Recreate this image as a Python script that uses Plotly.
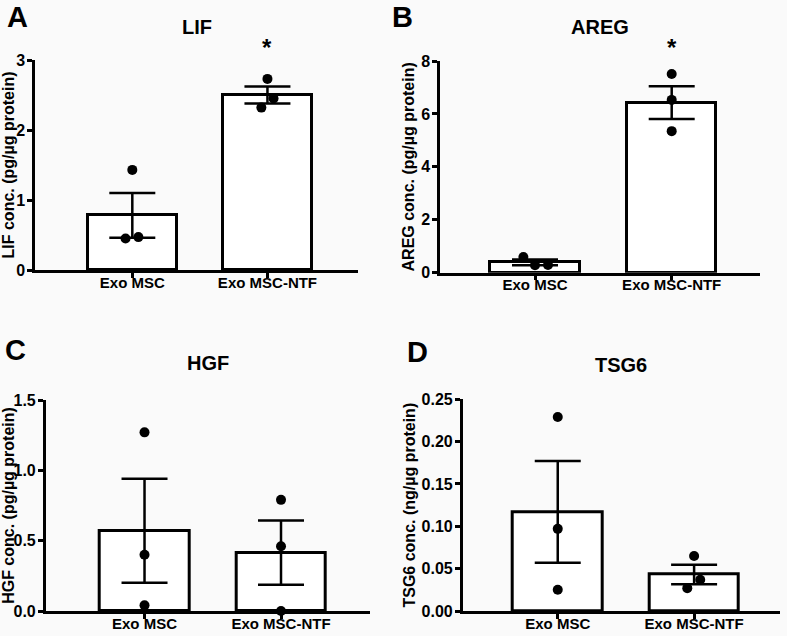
import plotly.graph_objects as go

# ---------------- data ----------------
categories = ["Exo MSC", "Exo MSC-NTF"]

lif_mean = [0.78, 2.50]
lif_sem = [0.32, 0.12]
lif_msc_points = [1.43, 0.45, 0.47]
lif_ntf_points = [2.73, 2.45, 2.32]

areg_mean = [0.39, 6.43]
areg_sem = [0.11, 0.62]
areg_msc_points = [0.59, 0.28, 0.29]
areg_ntf_points = [7.51, 6.53, 5.35]

hgf_mean = [0.57, 0.415]
hgf_sem = [0.37, 0.228]
hgf_msc_points = [1.27, 0.40, 0.04]
hgf_ntf_points = [0.79, 0.46, 0.0]

tsg6_mean = [0.117, 0.043]
tsg6_sem = [0.060, 0.0115]
tsg6_msc_points = [0.229, 0.097, 0.025]
tsg6_ntf_points = [0.065, 0.037, 0.027]

titles = ["LIF", "AREG", "HGF", "TSG6"]
letters = ["A", "B", "C", "D"]
ytitles = ["LIF conc. (pg/µg protein)", "AREG conc. (pg/µg protein)",
           "HGF conc. (pg/µg protein)", "TSG6 conc. (ng/µg protein)"]
yticks = [[0, 1, 2, 3], [0, 2, 4, 6, 8], [0, 0.5, 1.0, 1.5],
          [0, 0.05, 0.10, 0.15, 0.20, 0.25]]
ymax = [3, 8, 1.5, 0.25]
tickfmt = ["d", "d", ".1f", ".2f"]
significant = [True, True, False, False]

panels = [
    (lif_mean, lif_sem, lif_msc_points, lif_ntf_points),
    (areg_mean, areg_sem, areg_msc_points, areg_ntf_points),
    (hgf_mean, hgf_sem, hgf_msc_points, hgf_ntf_points),
    (tsg6_mean, tsg6_sem, tsg6_msc_points, tsg6_ntf_points),
]

# ---------------- layout / style ----------------
W, H = 787, 636
# pixel boxes: (left, right, top, bottom)
boxes = [(35, 358, 60, 270), (440, 760, 61, 272.7),
         (45.7, 370, 400, 611), (462.7, 780, 399.3, 611)]
xranges = [[-0.72, 1.67], [-0.695, 1.646], [-0.724, 1.652], [-0.697, 1.63]]
jitter_msc = [[0.0, -0.05, 0.045], [-0.085, 0.0, 0.095], [0, 0, 0], [0, 0, 0]]
jitter_ntf = [[0.0, 0.045, -0.045], [0, 0, 0], [0, 0, 0], [0.0, 0.045, -0.05]]
title_y_px = [27, 27, 363, 365]
star_y_px = [47, 47]
letter_pos = [(17, 0), (402, 0), (15, 333), (418, 335)]

FONT = "Arial, Liberation Sans, Helvetica, sans-serif"
BG = "#fafafa"

fig = go.Figure()
annotations = []

for i, (mean, sem, msc_pts, ntf_pts) in enumerate(panels):
    n = "" if i == 0 else str(i + 1)
    xa, ya = "x" + n, "y" + n
    fig.add_trace(go.Bar(
        x=[0, 1], y=mean, width=0.655, xaxis=xa, yaxis=ya,
        marker=dict(color="white", line=dict(color="black", width=3)),
        error_y=dict(type="data", array=sem, visible=True, color="black",
                     thickness=2.5, width=23),
        showlegend=False, hoverinfo="y"))
    xs = [0 + j for j in jitter_msc[i]] + [1 + j for j in jitter_ntf[i]]
    fig.add_trace(go.Scatter(
        x=xs, y=list(msc_pts) + list(ntf_pts), mode="markers",
        xaxis=xa, yaxis=ya, cliponaxis=False,
        marker=dict(color="black", size=10),
        showlegend=False, hoverinfo="y"))

    l, r, t, b = boxes[i]
    fig.layout["xaxis" + n] = dict(
        domain=[l / W, r / W], range=xranges[i], anchor=ya,
        tickvals=[0, 1], ticktext=categories, showline=True,
        linecolor="black", linewidth=2.5, ticks="outside", ticklen=5,
        tickwidth=2.5, tickcolor="black", showgrid=False, zeroline=False,
        automargin=False, ticklabelstandoff=-8,
        tickfont=dict(family=FONT, size=15, color="black", weight="bold"),
        fixedrange=True)
    fig.layout["yaxis" + n] = dict(
        domain=[1 - b / H, 1 - t / H], range=[0, ymax[i]], anchor=xa,
        tickvals=yticks[i], tickformat=tickfmt[i], showline=True,
        linecolor="black", linewidth=2.5, ticks="outside", ticklen=5,
        tickwidth=2.5, tickcolor="black", showgrid=False, zeroline=False,
        automargin=False, ticklabelstandoff=-1,
        tickfont=dict(family=FONT, size=16, color="black", weight="bold"),
        title=dict(text=ytitles[i], standoff=3,
                   font=dict(family=FONT, size=16, color="black", weight="bold")),
        fixedrange=True)

    annotations.append(dict(
        text="<b>%s</b>" % titles[i], xref="paper", yref="paper",
        x=(l + r) / 2 / W, y=1 - title_y_px[i] / H, showarrow=False,
        xanchor="center", yanchor="middle",
        font=dict(family=FONT, size=20, color="black")))
    lx, ly = letter_pos[i]
    annotations.append(dict(
        text="<b>%s</b>" % letters[i], xref="paper", yref="paper",
        x=lx / W, y=1 - ly / H, showarrow=False, xanchor="center",
        yanchor="top", borderpad=0,
        font=dict(family=FONT, size=29, color="black")))
    if significant[i]:
        annotations.append(dict(
            text="<b>*</b>", xref=xa, yref="paper", x=1,
            y=1 - star_y_px[i] / H, showarrow=False, xanchor="center",
            yanchor="middle", font=dict(family=FONT, size=24, color="black")))

fig.update_layout(
    width=W, height=H, margin=dict(l=0, r=0, t=0, b=0, autoexpand=False),
    paper_bgcolor=BG, plot_bgcolor=BG, annotations=annotations,
    bargap=0, font=dict(family=FONT, color="black"))

fig.write_html("out.html", config={"displayModeBar": False},
               post_script="document.body.style.margin='0';"
                           "document.body.style.background='%s';" % BG)
